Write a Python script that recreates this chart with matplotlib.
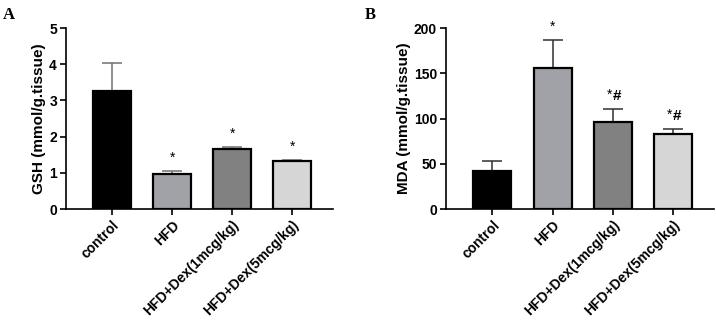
import numpy as np
import matplotlib.pyplot as plt

plt.rcParams['font.family'] = ['Liberation Sans', 'DejaVu Sans']

groups = ['control', 'HFD', 'HFD+Dex(1mcg/kg)', 'HFD+Dex(5mcg/kg)']
colors = ['#000000', '#a1a1a8', '#818181', '#d6d6d6']

# panel A: GSH
gsh_mean = [3.27, 0.97, 1.67, 1.32]
gsh_err = [0.76, 0.09, 0.05, 0.04]
gsh_sig = ['', '*', '*', '*']

# panel B: MDA
mda_mean = [41.5, 155.5, 96.0, 82.5]
mda_err = [11.0, 31.5, 15.0, 6.0]
mda_sig = ['', '*', '*#', '*#']

fig = plt.figure(figsize=(7.16, 3.23), dpi=100)
axA = fig.add_axes([0.0922, 0.3529, 0.3729, 0.5604])
axB = fig.add_axes([0.6229, 0.3529, 0.3743, 0.5604])


def panel(ax, mean, err, sig, ylim, yticks, ylabel, ecolor):
    x = np.arange(len(groups))
    ax.bar(x, mean, width=0.63, color=colors, edgecolor='black', linewidth=1.6, zorder=2)
    ax.errorbar(x, mean, yerr=[np.zeros(len(mean)), err], fmt='none',
                ecolor=ecolor, elinewidth=1.1, capsize=7, capthick=1.1, zorder=1)
    for xi, m, e, s in zip(x, mean, err, sig):
        if s == '*':
            ax.annotate('*', (xi, m + e), xytext=(0, 4), textcoords='offset points',
                        ha='center', va='bottom', fontsize=10)
        elif s == '*#':
            ax.annotate('*', (xi, m + e), xytext=(-2.5, 5), textcoords='offset points',
                        ha='center', va='bottom', fontsize=10)
            ax.annotate('#', (xi, m + e), xytext=(2.8, 4), textcoords='offset points',
                        ha='center', va='bottom', fontsize=11, fontweight='bold')
    ax.set_xlim(-0.77, 3.68)
    ax.set_ylim(*ylim)
    ax.set_yticks(yticks)
    ax.set_xticks(x)
    ax.set_xticklabels(groups, rotation=45, ha='right', rotation_mode='anchor',
                       fontsize=10, fontweight='bold')
    for lab in ax.get_yticklabels():
        lab.set_fontweight('bold')
        lab.set_fontsize(10)
    ax.set_ylabel(ylabel, fontsize=11, fontweight='bold', labelpad=2)
    for side in ['top', 'right']:
        ax.spines[side].set_visible(False)
    for side in ['left', 'bottom']:
        ax.spines[side].set_linewidth(1.2)
    ax.tick_params(width=1.2, length=4.5, pad=2)


panel(axA, gsh_mean, gsh_err, gsh_sig, (0, 5), [0, 1, 2, 3, 4, 5],
      'GSH (mmol/g.tissue)', '#707070')
panel(axB, mda_mean, mda_err, mda_sig, (0, 200), [0, 50, 100, 150, 200],
      'MDA (mmol/g.tissue)', '#303030')

fig.text(0.004, 0.94, 'A', fontsize=12, fontweight='bold', family='Liberation Serif')
fig.text(0.510, 0.94, 'B', fontsize=12, fontweight='bold', family='Liberation Serif')

fig.savefig('out.png', dpi=100)
